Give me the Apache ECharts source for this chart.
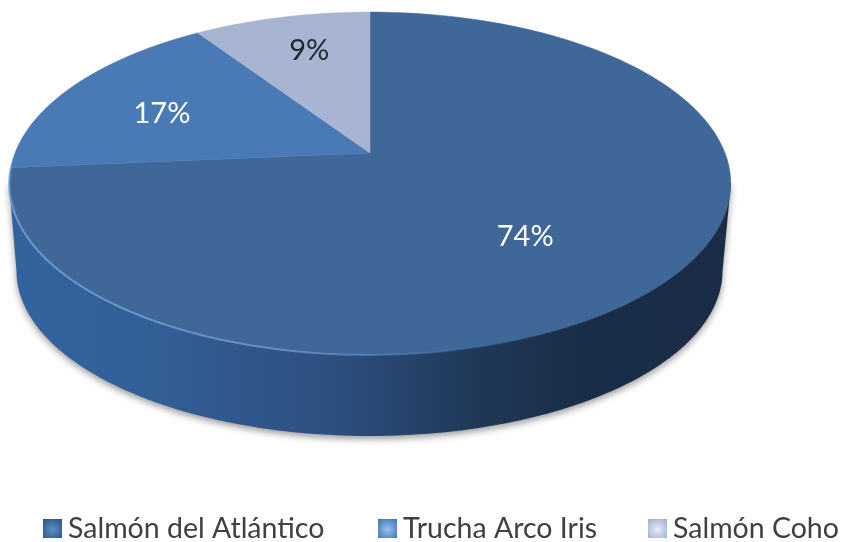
<!DOCTYPE html>
<html>
<head>
<meta charset="utf-8">
<title>Salmón</title>
<style>
  html, body { margin: 0; padding: 0; background: #fff; }
  #chart { width: 844px; height: 542px; }
</style>
<script src="https://cdn.jsdelivr.net/npm/echarts@6/dist/echarts.min.js"></script>
</head>
<body>
<div id="chart"></div>
<script>
// datos
const categories = ['Salmón del Atlántico', 'Trucha Arco Iris', 'Salmón Coho']
const values = [73.6, 17, 9.4]
const labels = ['74%', '17%', '9%']

// estilo de cada porcion
const sliceColors = ['#3f6899', '#4a7ab6', '#a8b5d2']
const labelColors = ['#ffffff', '#ffffff', '#1d2633']
const labelRadius = [0.55, 0.67, 0.75]
const labelShift = [[1, 18], [-4, 6], [8, 3]]
const legendLeft = [38, 373, 643]
const legendIcons = [
  ['#2c5486', '#5f8fc8'],
  ['#3d74b4', '#9cc0ea'],
  ['#9dafcf', '#e8ecf5']
]

// perspectiva de la cara superior (el vertice no cae en el centro de la elipse)
const apex = { x: 370, y: 153 }
const persp = 0.178
const scaleX = 355
const scaleY = 166
// elipses de la cara superior e inferior
const topEll = { x: 370, y: 183, rx: 361, ry: 171 }
const botEll = { x: 369.5, y: 271, rx: 353, ry: 165 }

// angulo en grados, horario desde arriba; r = fraccion del radio
function project (deg, r) {
  const a = deg * Math.PI / 180
  const u = r * Math.sin(a)
  const v = r * Math.cos(a)
  const d = 1 + persp * v
  return [apex.x + scaleX * u / d, apex.y - scaleY * v / d]
}

function arcPoints (from, to) {
  const pts = []
  const n = Math.max(2, Math.ceil((to - from) / 1.5))
  for (let i = 0; i <= n; i++) {
    pts.push(project(from + (to - from) * i / n, 1))
  }
  return pts
}

const total = values.reduce((a, b) => a + b, 0)

function startAngle (index) {
  let sum = 0
  for (let i = 0; i < index; i++) sum += values[i]
  return sum / total * 360
}

function renderSlice (index) {
  return function (params, api) {
    const from = startAngle(index)
    const to = from + api.value(0) / total * 360
    const children = [{
      type: 'polygon',
      shape: { points: [[apex.x, apex.y]].concat(arcPoints(from, to)) },
      style: { fill: sliceColors[index], stroke: sliceColors[index], lineWidth: 0.5 }
    }]
    if (index === 0) {
      // brillo del borde, de la izquierda hacia el frente
      children.push({
        type: 'polyline',
        shape: { points: arcPoints(165, to) },
        style: {
          fill: null,
          lineWidth: 2,
          stroke: {
            type: 'linear', x: 0, y: 0, x2: 1, y2: 0,
            colorStops: [
              { offset: 0, color: 'rgba(120,165,220,0.8)' },
              { offset: 0.55, color: 'rgba(120,165,220,0.7)' },
              { offset: 1, color: 'rgba(120,165,220,0)' }
            ]
          }
        }
      })
    }
    const mid = project((from + to) / 2, labelRadius[index])
    children.push({
      type: 'text',
      style: {
        x: mid[0] + labelShift[index][0],
        y: mid[1] + labelShift[index][1],
        text: labels[index],
        fill: labelColors[index],
        font: '29px Lato',
        align: 'center',
        verticalAlign: 'middle'
      }
    })
    return { type: 'group', children: children }
  }
}

// pared lateral del disco
function renderWall () {
  const pts = [[topEll.x + topEll.rx, topEll.y]]
  for (let deg = 90; deg <= 270; deg += 1.5) {
    const a = deg * Math.PI / 180
    pts.push([botEll.x + botEll.rx * Math.sin(a), botEll.y - botEll.ry * Math.cos(a)])
  }
  pts.push([topEll.x - topEll.rx, topEll.y])
  return {
    type: 'polygon',
    shape: { points: pts },
    style: {
      shadowBlur: 7,
      shadowOffsetY: 3,
      shadowColor: 'rgba(0,0,0,0.4)',
      fill: {
        type: 'linear', x: 0, y: 0, x2: 1, y2: 0,
        colorStops: [
          { offset: 0, color: '#33639e' },
          { offset: 0.2, color: '#335f97' },
          { offset: 0.45, color: '#2d4f7f' },
          { offset: 0.65, color: '#1f3857' },
          { offset: 0.8, color: '#1a2d48' },
          { offset: 1, color: '#1a2c46' }
        ]
      }
    }
  }
}

const legendList = categories.map(function (name, i) {
  return {
    left: legendLeft[i],
    top: 509,
    itemWidth: 19,
    itemHeight: 19,
    selectedMode: false,
    textStyle: { fontFamily: 'Lato', fontSize: 28.5, color: '#404040', padding: [0, 0, 0, 1] },
    data: [{
      name: name,
      icon: 'rect',
      itemStyle: {
        color: {
          type: 'radial', x: 0.5, y: 0.55, r: 0.7,
          colorStops: [
            { offset: 0, color: legendIcons[i][1] },
            { offset: 1, color: legendIcons[i][0] }
          ]
        }
      }
    }]
  }
})

const sliceSeries = categories.map(function (name, i) {
  return {
    name: name,
    type: 'custom',
    coordinateSystem: 'none',
    z: 3,
    itemStyle: { color: sliceColors[i] },
    renderItem: renderSlice(i),
    data: [[values[i]]]
  }
})

const chart = echarts.init(document.getElementById('chart'))
chart.setOption({
  animation: false,
  backgroundColor: '#ffffff',
  legend: legendList,
  series: [{
    type: 'custom',
    coordinateSystem: 'none',
    silent: true,
    z: 1,
    renderItem: renderWall,
    data: [[1]]
  }].concat(sliceSeries)
})
</script>
</body>
</html>
